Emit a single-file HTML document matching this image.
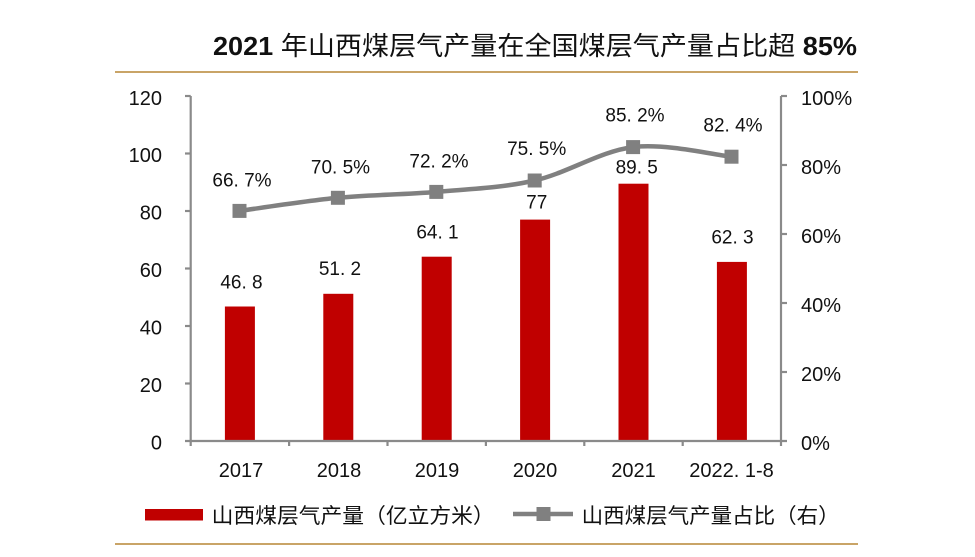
<!DOCTYPE html>
<html>
<head>
<meta charset="utf-8">
<style>
  html,body{margin:0;padding:0;background:#fff;}
  svg{display:block;}
  .t{font-family:"Liberation Sans","Noto Sans CJK SC",sans-serif;fill:#111;}
  .c{font-family:"Liberation Sans","Noto Sans CJK SC",sans-serif;fill:#111;}
</style>
</head>
<body>
<svg width="975" height="557" viewBox="0 0 975 557" xmlns="http://www.w3.org/2000/svg">
  <rect x="0" y="0" width="975" height="557" fill="#ffffff"/>

  <!-- Title -->
  <text class="t" x="213" y="55" font-size="26" textLength="644" lengthAdjust="spacingAndGlyphs"><tspan font-weight="bold">2021 </tspan><tspan font-family="Noto Sans CJK SC, sans-serif" font-weight="normal">年山西煤层气产量在全国煤层气产量占比超</tspan><tspan font-weight="bold"> 85%</tspan></text>
  <line x1="115" y1="72" x2="858" y2="72" stroke="#c9a467" stroke-width="2"/>

  <!-- Bars -->
  <g fill="#c00000">
    <rect x="224.9" y="306.5" width="30" height="134.5"/>
    <rect x="323.3" y="293.8" width="30" height="147.2"/>
    <rect x="421.7" y="256.7" width="30" height="184.3"/>
    <rect x="520.1" y="219.6" width="30" height="221.4"/>
    <rect x="618.5" y="183.7" width="30" height="257.3"/>
    <rect x="716.9" y="261.9" width="30" height="179.1"/>
  </g>

  <!-- Axes -->
  <g stroke="#8a8a8a" stroke-width="2.2" fill="none">
    <line x1="190.7" y1="96" x2="190.7" y2="441"/>
    <line x1="185" y1="441" x2="787" y2="441"/>
    <line x1="781" y1="96" x2="781" y2="441"/>
    <!-- left ticks -->
    <line x1="185" y1="96" x2="190.7" y2="96"/>
    <line x1="185" y1="153.5" x2="190.7" y2="153.5"/>
    <line x1="185" y1="211" x2="190.7" y2="211"/>
    <line x1="185" y1="268.5" x2="190.7" y2="268.5"/>
    <line x1="185" y1="326" x2="190.7" y2="326"/>
    <line x1="185" y1="383.5" x2="190.7" y2="383.5"/>
    <!-- right ticks -->
    <line x1="781" y1="96" x2="787" y2="96"/>
    <line x1="781" y1="165" x2="787" y2="165"/>
    <line x1="781" y1="234" x2="787" y2="234"/>
    <line x1="781" y1="303" x2="787" y2="303"/>
    <line x1="781" y1="372" x2="787" y2="372"/>
    <!-- category ticks -->
    <line x1="190.7" y1="441" x2="190.7" y2="446"/>
    <line x1="289.1" y1="441" x2="289.1" y2="446"/>
    <line x1="387.5" y1="441" x2="387.5" y2="446"/>
    <line x1="485.9" y1="441" x2="485.9" y2="446"/>
    <line x1="584.3" y1="441" x2="584.3" y2="446"/>
    <line x1="682.7" y1="441" x2="682.7" y2="446"/>
    <line x1="781" y1="441" x2="781" y2="446"/>
  </g>

  <!-- Left axis labels -->
  <g class="t" font-size="20" text-anchor="end">
    <text x="162" y="105">120</text>
    <text x="162" y="162">100</text>
    <text x="162" y="219.5">80</text>
    <text x="162" y="277">60</text>
    <text x="162" y="334.5">40</text>
    <text x="162" y="392">20</text>
    <text x="162" y="449.5">0</text>
  </g>

  <!-- Right axis labels -->
  <g class="t" font-size="20">
    <text x="801" y="105">100%</text>
    <text x="801" y="174">80%</text>
    <text x="801" y="243">60%</text>
    <text x="801" y="312">40%</text>
    <text x="801" y="381">20%</text>
    <text x="801" y="450">0%</text>
  </g>

  <!-- Category labels -->
  <g class="t" font-size="20" text-anchor="middle">
    <text x="241" y="477">2017</text>
    <text x="339" y="477">2018</text>
    <text x="437" y="477">2019</text>
    <text x="535" y="477">2020</text>
    <text x="633.5" y="477">2021</text>
    <text x="731.5" y="477">2022. 1-8</text>
  </g>

  <!-- Line series -->
  <path d="M239.5,210.9 C255.9,208.7 305.1,201.0 337.9,197.8 C370.7,194.6 403.5,194.8 436.3,191.9 C469.1,189.0 501.9,188.0 534.7,180.5 C567.5,173.0 600.3,151.1 633.1,147.1 C665.9,143.1 715.1,155.1 731.5,156.7"
        fill="none" stroke="#808080" stroke-width="4.5" stroke-linecap="round"/>
  <g fill="#808080">
    <rect x="232.5" y="203.9" width="14" height="14"/>
    <rect x="330.9" y="190.8" width="14" height="14"/>
    <rect x="429.3" y="184.9" width="14" height="14"/>
    <rect x="527.7" y="173.5" width="14" height="14"/>
    <rect x="626.1" y="140.1" width="14" height="14"/>
    <rect x="724.5" y="149.7" width="14" height="14"/>
  </g>

  <!-- Line data labels -->
  <g class="t" font-size="19" text-anchor="middle">
    <text x="242" y="186.7">66. 7%</text>
    <text x="340.5" y="173.3">70. 5%</text>
    <text x="439" y="167.3">72. 2%</text>
    <text x="536.7" y="155">75. 5%</text>
    <text x="635" y="121.7">85. 2%</text>
    <text x="733" y="131.7">82. 4%</text>
  </g>

  <!-- Bar data labels -->
  <g class="t" font-size="19" text-anchor="middle">
    <text x="241.5" y="288.3">46. 8</text>
    <text x="340" y="275">51. 2</text>
    <text x="437.5" y="238.3">64. 1</text>
    <text x="536.7" y="208.3">77</text>
    <text x="636.7" y="173.3">89. 5</text>
    <text x="732.5" y="243.3">62. 3</text>
  </g>

  <!-- Legend -->
  <rect x="145" y="509" width="58" height="11.5" fill="#c00000"/>
  <text class="c" x="211.7" y="523" font-size="21" textLength="283" lengthAdjust="spacingAndGlyphs">山西煤层气产量（亿立方米）</text>
  <line x1="513" y1="514" x2="573" y2="514" stroke="#808080" stroke-width="4.5"/>
  <rect x="536.5" y="507" width="14" height="14" fill="#808080"/>
  <text class="c" x="581.7" y="523" font-size="21" textLength="258" lengthAdjust="spacingAndGlyphs">山西煤层气产量占比（右）</text>

  <line x1="115" y1="544" x2="858" y2="544" stroke="#c9a467" stroke-width="2"/>
</svg>
</body>
</html>
